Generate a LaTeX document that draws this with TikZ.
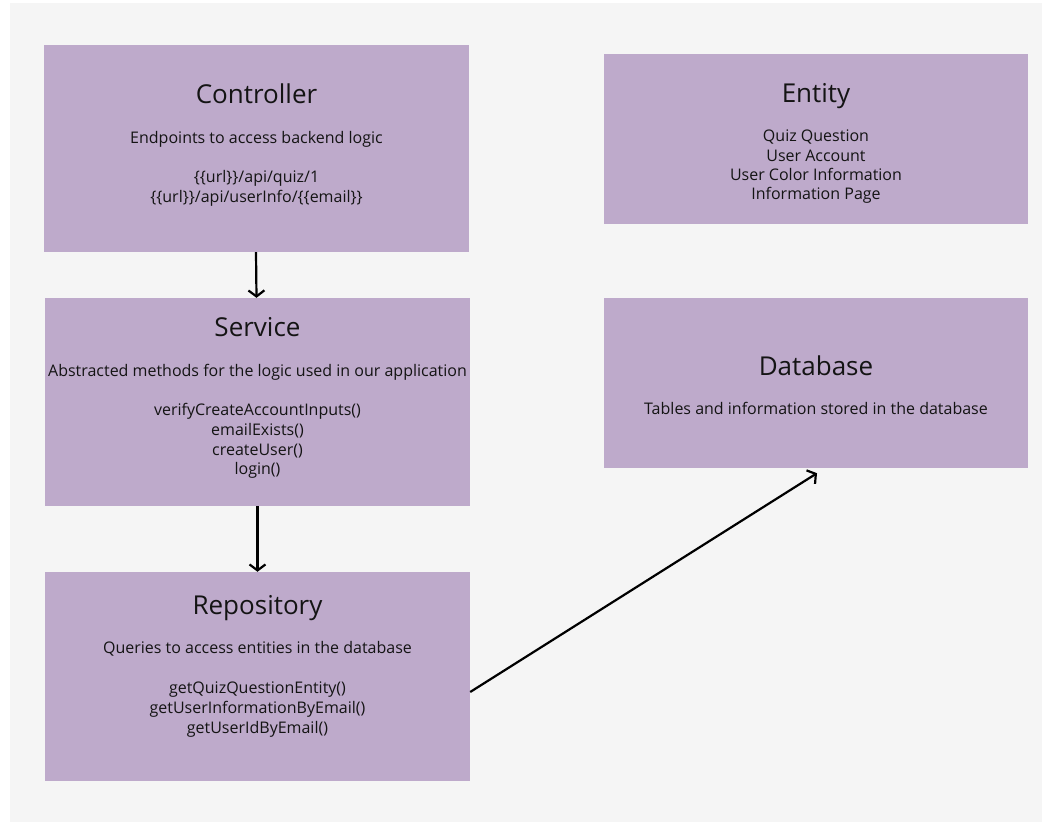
\documentclass[tikz,border=0pt]{standalone}
\usepackage{fontspec}
\setmainfont{Open Sans}
\usetikzlibrary{arrows.meta}
\definecolor{boxfill}{HTML}{BEAACB}
\definecolor{bggray}{HTML}{F5F5F5}
\definecolor{inkc}{HTML}{141414}
\tikzset{
  layerbox/.style={fill=boxfill, draw=none, inner sep=0pt, anchor=center},
  ttl/.style={anchor=base, inner sep=0pt, text=inkc, font=\fontsize{26}{30}\selectfont},
  bodyt/.style={anchor=base, inner sep=0pt, text=inkc, font=\fontsize{16}{19}\selectfont},
  conn/.style={draw=black, line width=2.2pt, -{Straight Barb[length=6pt, width=16pt, line width=2.2pt]}}
}
\begin{document}
\begin{tikzpicture}[x=1pt, y=-1pt]
\useasboundingbox (0,0) rectangle (1042,822);
\fill[white] (0,0) rectangle (1042,822);
\fill[bggray] (10,3) rectangle (1042,822);

% boxes
\node[layerbox, minimum width=425pt, minimum height=207pt] (ctrl) at (256.5,148.5) {};
\node[layerbox, minimum width=425pt, minimum height=208pt] (svc) at (257.5,402) {};
\node[layerbox, minimum width=425pt, minimum height=209pt] (repo) at (257.5,676.5) {};
\node[layerbox, minimum width=424pt, minimum height=170pt] (ent) at (816,139) {};
\node[layerbox, minimum width=424pt, minimum height=170pt] (db) at (816,383) {};

% Controller
\node[ttl] (ctrlT) at (256.5,103) {Controller};
\node[bodyt] (ctrlB) at (256.5,143) {Endpoints to access backend logic};
\node[bodyt] (ctrlU1) at (256.5,182) {\{\{url\}\}/api/quiz/1};
\node[bodyt] (ctrlU2) at (256.5,202) {\{\{url\}\}/api/userInfo/\{\{email\}\}};

% Service
\node[ttl] (svcT) at (257.5,336) {Service};
\node[bodyt] (svcB) at (257.5,376) {Abstracted methods for the logic used in our application};
\node[bodyt] (svcM1) at (257.5,415) {verifyCreateAccountInputs()};
\node[bodyt] (svcM2) at (257.5,435) {emailExists()};
\node[bodyt] (svcM3) at (257.5,455) {createUser()};
\node[bodyt] (svcM4) at (257.5,474) {login()};

% Repository
\node[ttl] (repoT) at (257.5,614) {Repository};
\node[bodyt] (repoB) at (257.5,653) {Queries to access entities in the database};
\node[bodyt] (repoM1) at (257.5,693) {getQuizQuestionEntity()};
\node[bodyt] (repoM2) at (257.5,713) {getUserInformationByEmail()};
\node[bodyt] (repoM3) at (257.5,733) {getUserIdByEmail()};

% Entity
\node[ttl] (entT) at (816,102) {Entity};
\node[bodyt] (entL1) at (816,141) {Quiz Question};
\node[bodyt] (entL2) at (816,161) {User Account};
\node[bodyt] (entL3) at (816,180) {User Color Information};
\node[bodyt] (entL4) at (816,199) {Information Page};

% Database
\node[ttl] (dbT) at (816,375) {Database};
\node[bodyt] (dbB) at (816,414) {Tables and information stored in the database};

% connectors
\coordinate (repoOut) at ([yshift=-15.5pt]repo.east);
\coordinate (dbIn) at ([xshift=1pt, yshift=-5pt]db.south);
\draw[conn] ([xshift=-0.5pt]ctrl.south) -- (ctrl.south |- svc.north);
\draw[conn] (svc.south) -- (repo.north);
\draw[conn] (repoOut) -- (dbIn);
\end{tikzpicture}
\end{document}
